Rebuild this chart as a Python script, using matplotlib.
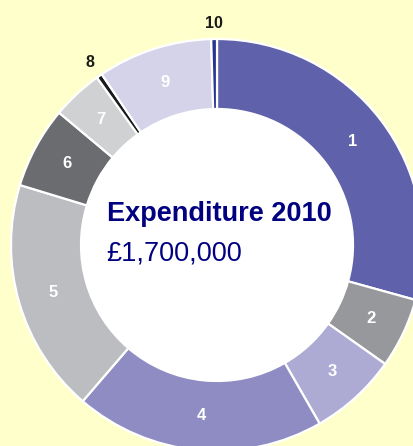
import numpy as np
import matplotlib
matplotlib.use("Agg")
from matplotlib import pyplot as plt
from matplotlib.patches import Circle

# Expenditure shares (percent of total)
labels = ['1', '2', '3', '4', '5', '6', '7', '8', '9', '10']
shares = [29.3, 5.5, 6.9, 19.6, 18.4, 6.4, 4.0, 0.45, 9.0, 0.45]
colors = ['#5f62aa', '#97989b', '#adabd4', '#8e8cc2', '#bcbdc0',
          '#6b6c6f', '#d0d1d2', '#1a1a1a', '#d4d3ea', '#263592']
outside = ['8', '10']

title = 'Expenditure 2010'
total = '£1,700,000'

bg = '#ffffcc'
navy = '#000080'

W, H = 414, 446
fig = plt.figure(figsize=(W / 100, H / 100), dpi=100, facecolor=bg)
ax = fig.add_axes([0, 0, 1, 1])

cx, cy = 217, H - 245
r_out, r_in = 206, 136

# white hole in the middle
ax.add_patch(Circle((cx, cy), r_in, facecolor='white', edgecolor='none', zorder=0))

wedges, _ = ax.pie(shares, colors=colors, startangle=90, counterclock=False,
                   radius=r_out, center=(cx, cy), frame=True,
                   wedgeprops=dict(width=r_out - r_in, edgecolor='white',
                                   linewidth=1.6))
ax.set_xlim(0, W)
ax.set_ylim(0, H)
ax.set_aspect('equal')
ax.axis('off')

for w, lab in zip(wedges, labels):
    ang = np.deg2rad((w.theta1 + w.theta2) / 2)
    if lab in outside:
        r, col, fs = 222, '#1a1a1a', 11.5
    else:
        r, col, fs = (r_out + r_in) / 2, 'white', 12
    ax.text(cx + r * np.cos(ang), cy + r * np.sin(ang), lab,
            ha='center', va='center', color=col, fontsize=fs,
            fontweight='bold', family='Liberation Sans')

ax.text(107, H - 221, title, ha='left', va='baseline', color=navy,
        fontsize=19.5, fontweight='bold', family='Liberation Sans')
ax.text(106, H - 261, total, ha='left', va='baseline', color=navy,
        fontsize=19.5, family='Liberation Sans')

fig.savefig('out.png', dpi=100, facecolor=bg)
